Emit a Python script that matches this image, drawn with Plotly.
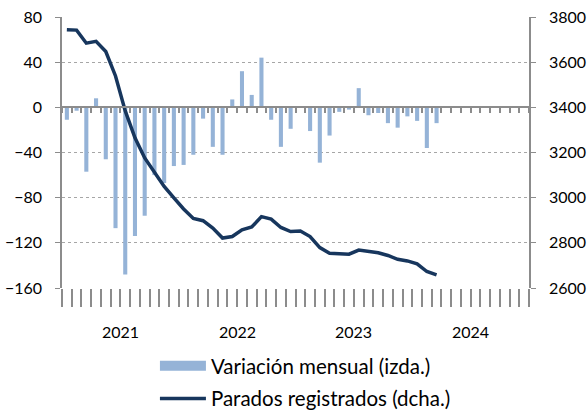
import plotly.graph_objects as go

years = ["2021", "2022", "2023", "2024"]
months = [f"{y}-{m:02d}" for y in years for m in range(1, 13)]

variacion = [-11, -3, -57, 8, -46, -107, -148, -114, -96, -60, -67, -52,
             -51, -42, -10, -35, -42, 7, 32, 11, 44, -11, -35, -19,
             0, -21, -49, -25, -4, -2, 17, -7, -5, -14, -18, -8,
             -12, -36, -14]
parados = [3744, 3742, 3684, 3692, 3647, 3539, 3384, 3265, 3176, 3110, 3050, 2999,
           2950, 2908, 2898, 2865, 2821, 2828, 2858, 2870, 2916, 2905, 2868, 2850,
           2852, 2828, 2779, 2754, 2752, 2750, 2768, 2761, 2756, 2744, 2727, 2720,
           2707, 2673, 2658]

name_bar = "Variación mensual (izda.)"
name_line = "Parados registrados (dcha.)"

BAR_COL = "#95B3D7"
LINE_COL = "#17365D"
AX_COL = "#8C8C8C"
GRID_COL = "#A6A6A6"
FONT = "Lato"

xi = list(range(len(months)))
n = len(months)
bounds = [i - 0.5 for i in range(n + 1)]
year_bounds = [i * 12 - 0.5 for i in range(len(years) + 1)]
year_centers = [i * 12 + 5.5 for i in range(len(years))]

fig = go.Figure()
fig.add_trace(go.Bar(x=xi[:len(variacion)], y=variacion, marker_color=BAR_COL,
                     marker_line_width=0, showlegend=False, xaxis="x", yaxis="y"))
# legend entry for bars (wide swatch)
fig.add_trace(go.Scatter(x=[None], y=[None], mode="lines", name=name_bar,
                         line=dict(color=BAR_COL, width=12), legendgroup="a",
                         xaxis="x", yaxis="y"))
fig.add_trace(go.Scatter(x=xi[:len(parados)], y=parados, mode="lines", name=name_line,
                         line=dict(color=LINE_COL, width=3.5), legendgroup="b",
                         xaxis="x3", yaxis="y2"))

fig.update_layout(
    width=588, height=412,
    margin=dict(l=62, r=59, t=17, b=124, autoexpand=False),
    paper_bgcolor="white", plot_bgcolor="white",
    font=dict(family=FONT, size=16, color="#000000"),
    bargap=0.58,
    xaxis=dict(range=[-0.5, n - 0.5], showgrid=False, zeroline=False, showline=False,
               tickmode="array", tickvals=year_bounds, ticktext=[""] * len(year_bounds),
               ticks="outside", ticklen=56, tickcolor=AX_COL, tickwidth=1.5,
               minor=dict(tickmode="array", tickvals=bounds, ticks="outside", ticklen=18,
                          tickcolor=AX_COL, tickwidth=1.5, showgrid=False)),
    xaxis3=dict(range=[-0.5, n - 0.5], overlaying="x", anchor="free", position=160 / 240,
                showgrid=False, zeroline=False, showline=True, linecolor=AX_COL, linewidth=2,
                tickmode="array", tickvals=bounds, ticks="outside", ticklen=5,
                tickcolor=AX_COL, tickwidth=1.5, showticklabels=False),
    yaxis=dict(range=[-160, 80], dtick=40, tick0=0, showgrid=True, gridcolor=GRID_COL,
               griddash="dot", gridwidth=1, zeroline=False, showline=True, linecolor=AX_COL,
               linewidth=1.5, ticks="outside", ticklen=5, tickcolor=AX_COL,
               ticklabelstandoff=10, domain=[0, 1]),
    yaxis2=dict(range=[2600, 3800], dtick=200, tick0=2600, overlaying="y", side="right",
                showgrid=False, zeroline=False, showline=True, linecolor=AX_COL,
                linewidth=1.5, ticks="outside", ticklen=5, tickcolor=AX_COL,
                ticklabelstandoff=10),
    legend=dict(orientation="v", x=0.199, xanchor="left", y=-0.214, yanchor="top",
                itemwidth=46, traceorder="grouped", tracegroupgap=3,
                font=dict(family=FONT, size=20.5), bgcolor="rgba(0,0,0,0)"),
)

for yr, c in zip(years, year_centers):
    fig.add_annotation(x=c, y=-0.161, xref="x", yref="paper", text=yr, showarrow=False,
                       font=dict(family=FONT, size=16), yanchor="middle")

fig.write_html("out.html", config={"displayModeBar": False},
               post_script="document.body.style.margin='0';document.body.style.padding='0';")
